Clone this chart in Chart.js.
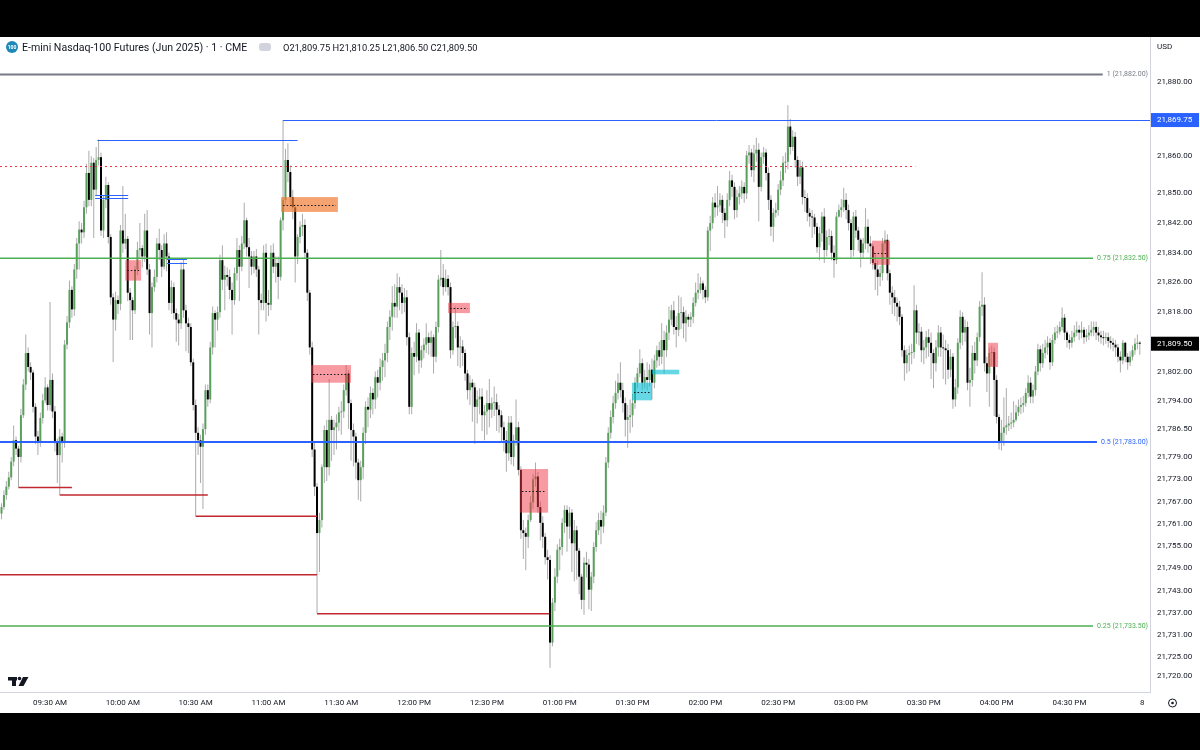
<!DOCTYPE html>
<html>
<head>
<meta charset="utf-8">
<script src="https://cdn.jsdelivr.net/npm/chart.js@4.4.1/dist/chart.umd.min.js"></script>
<style>
  html, body { margin: 0; padding: 0; background: #000; }
  #page { position: relative; width: 1200px; height: 750px; background: #000; overflow: hidden; font-family: Roboto, "Noto Sans", sans-serif; }
  #pane { position: absolute; left: 0; top: 37px; width: 1200px; height: 676px; background: #fff; }
  #chart { position: absolute; left: 0; top: 0; }
  .hdr { position: absolute; top: 4px; height: 13px; line-height: 13px; color: #131722; white-space: nowrap; }
  #sym { left: 6px; top: 4px; width: 12px; height: 12px; border-radius: 50%; background: #1e88b9; color: #fff; font-size: 5px; line-height: 12px; text-align: center; font-weight: bold; }
  #title { left: 22px; font-size: 10.6px; }
  #eye { left: 259px; top: 6px; width: 12px; height: 8px; border-radius: 3px; background: #d1d4dc; }
  #ohlc { left: 283px; font-size: 9.3px; }
  #usd { position: absolute; left: 1157px; top: 5px; font-size: 8px; color: #131722; }
</style>
</head>
<body>
<div id="page">
  <div id="pane">
    <canvas id="chart" width="1200" height="676"></canvas>
    <div id="sym" class="hdr">100</div>
    <div id="title" class="hdr">E-mini Nasdaq-100 Futures (Jun 2025) · 1 · CME</div>
    <div id="eye" class="hdr"></div>
    <div id="ohlc" class="hdr"></div>
    <div id="usd">USD</div>
  </div>
</div>
<script>
// 1-minute candles, 09:10 -> 16:59 (index 0 = 09:10)
const firstOpen = 21763.75;
const closes = [
  21765.5, 21768.75, 21771, 21773.5, 21777.75, 21783.5, 21781.25, 21779, 21790.25, 21798.5,
  21807, 21803.25, 21801.75, 21792.5, 21784.5, 21782.75, 21789.5, 21794.25, 21797.75, 21793,
  21799.75, 21791.25, 21782.75, 21779.5, 21784.5, 21782.75, 21809.25, 21815.25, 21824, 21818.75,
  21829.5, 21836.5, 21840.25, 21839.5, 21846.25, 21855.5, 21848.25, 21858.25, 21851, 21859,
  21859.75, 21840, 21848.25, 21852.25, 21838.25, 21822, 21816, 21821.25, 21820.25, 21840,
  21836.5, 21837.75, 21823.25, 21821.25, 21818.5, 21829.5, 21834.75, 21835.25, 21833, 21840,
  21829.5, 21817.75, 21824.75, 21827.5, 21836.5, 21834.75, 21830.25, 21836.5, 21833, 21820.5,
  21824.75, 21817.75, 21816, 21815, 21829.5, 21818.5, 21815, 21814, 21804.5, 21793,
  21785.5, 21783.5, 21781.75, 21786.5, 21797, 21794.5, 21808.5, 21817.75, 21816, 21818,
  21832, 21826.75, 21828, 21827.5, 21824, 21821.25, 21828.5, 21834.75, 21830.25, 21836.5,
  21842.75, 21835.5, 21833, 21830.25, 21833, 21829.5, 21821.25, 21820.5, 21834, 21820.5,
  21820, 21834, 21830.25, 21831.25, 21827.5, 21842.75, 21848.25, 21859, 21855.75, 21849,
  21846.25, 21833, 21838.25, 21841, 21841.5, 21834, 21823.25, 21808.5, 21781, 21771,
  21758.5, 21762, 21776.25, 21786.25, 21776.25, 21789, 21786.25, 21787, 21788.25, 21791,
  21791.25, 21797, 21801.5, 21793.5, 21786.25, 21784.5, 21777.5, 21772.75, 21776.25, 21785.5,
  21792.5, 21791.75, 21796.25, 21794.5, 21800.5, 21799, 21803.25, 21805, 21807, 21814,
  21816.75, 21820.5, 21819.5, 21824.75, 21823.25, 21820.5, 21822, 21811.25, 21792.5, 21807,
  21806, 21812.5, 21805, 21807.75, 21809.25, 21811.25, 21809.75, 21811.25, 21806, 21814,
  21826.75, 21827.25, 21824.75, 21827, 21824.75, 21807.75, 21814, 21814.25, 21808.5, 21808.75,
  21807, 21801.5, 21797, 21799, 21797.75, 21792.5, 21794.5, 21795.25, 21790.25, 21791.25,
  21793.5, 21791.75, 21793.5, 21793.75, 21791.75, 21790.25, 21787, 21783.5, 21780, 21788.25,
  21779, 21783.5, 21787, 21775.5, 21759.25, 21758.5, 21757.5, 21762, 21766.75, 21773,
  21773.75, 21765.5, 21761.25, 21757.5, 21752, 21751.25, 21729, 21739.75, 21746.75, 21754,
  21754.75, 21761.25, 21764.75, 21760.25, 21764, 21755.75, 21759.25, 21753.75, 21746.75, 21740.5,
  21750.5, 21750, 21743.25, 21746.75, 21754.75, 21759.25, 21762, 21760.25, 21764, 21777.5,
  21785.5, 21789.75, 21793.5, 21796.25, 21799, 21797, 21793.5, 21789, 21789.75, 21790.25,
  21793.5, 21799, 21801.5, 21804.25, 21799, 21800.5, 21799.75, 21802.5, 21799, 21805,
  21807.75, 21806, 21810.5, 21807.75, 21812.5, 21816, 21818.5, 21814, 21813.25, 21817.75,
  21818, 21815, 21816.75, 21816, 21816.75, 21820.5, 21823.25, 21824, 21825.75, 21824,
  21822, 21840, 21842, 21847.5, 21846.25, 21846.75, 21848.25, 21844.75, 21842.75, 21848.25,
  21853.5, 21851.75, 21845.5, 21849, 21850, 21851.75, 21850, 21860.25, 21861, 21856.25,
  21860.75, 21861.75, 21851.75, 21859.75, 21861, 21855.5, 21848.25, 21841, 21844.75, 21845.5,
  21851, 21853.5, 21858.25, 21858.5, 21868, 21862.5, 21865.25, 21859, 21854.5, 21857,
  21849, 21848.75, 21844.75, 21843.75, 21843.5, 21841, 21835.5, 21839.25, 21843.75, 21834.75,
  21838.25, 21838.5, 21834, 21832, 21843.75, 21845.5, 21846.25, 21848.25, 21845.5, 21842,
  21834.75, 21843.75, 21840, 21837.5, 21834, 21836.5, 21841, 21836.5, 21835.75, 21831.25,
  21829.5, 21827.5, 21828.5, 21836.5, 21837.5, 21828.5, 21823.25, 21822, 21820.5, 21819.5,
  21816.75, 21807.75, 21804.25, 21806.5, 21807, 21807.25, 21818.5, 21812.5, 21812.75, 21807.75,
  21808.5, 21811.25, 21809.75, 21807, 21804.25, 21808.5, 21812.5, 21808.5, 21808.25, 21807.75,
  21802.5, 21806, 21794.5, 21797.75, 21809.75, 21816.75, 21812.5, 21814, 21799, 21799.75,
  21807, 21805, 21811.25, 21819.5, 21820, 21804.25, 21801.5, 21807, 21807.25, 21799.75,
  21789.75, 21782.75, 21785.5, 21787, 21787.5, 21788, 21788.25, 21789, 21791, 21792.5,
  21793, 21793.5, 21796.25, 21799, 21795.25, 21797, 21802, 21808, 21804.25, 21807,
  21808.5, 21809.75, 21804.5, 21810.5, 21812.5, 21812.75, 21814, 21816.5, 21812.5, 21810.5,
  21809.75, 21811.25, 21812.5, 21813.25, 21812.5, 21813.25, 21811.25, 21811.75, 21812.5, 21813.25,
  21814, 21812.5, 21811.75, 21811.25, 21811, 21811.25, 21810.25, 21809.75, 21809.25, 21808.5,
  21806, 21805, 21809.75, 21806, 21804.5, 21806, 21807.75, 21809.5, 21809.75, 21809.5
];
const highs = [
  21766.5, 21770, 21772.5, 21775, 21779, 21787.5, 21784.5, 21782, 21792, 21800,
  21812, 21808.5, 21804.5, 21802.5, 21793.5, 21786, 21791, 21796, 21800.5, 21798.5,
  21820.75, 21801.5, 21792.75, 21784, 21786.5, 21785.5, 21810.5, 21817, 21826.5, 21825,
  21831, 21838, 21842.5, 21842, 21848, 21858, 21861.5, 21860, 21859.5, 21862.5,
  21864.5, 21861, 21849.5, 21854.5, 21853, 21839, 21823, 21823.5, 21822.5, 21841.5,
  21852, 21844.5, 21838.5, 21824.5, 21822, 21830.5, 21837, 21842, 21836, 21844.5,
  21845.5, 21831, 21826, 21829.5, 21838, 21840.5, 21836, 21839, 21839.5, 21834,
  21826.5, 21826, 21819, 21817.5, 21831.5, 21832.5, 21820, 21816.5, 21815, 21805.5,
  21794.5, 21787, 21785, 21788, 21798.5, 21798.5, 21810, 21819.5, 21818.5, 21819.5,
  21833.5, 21836, 21830.5, 21830, 21829.5, 21826, 21830, 21838, 21836, 21838.5,
  21847.5, 21843.5, 21838, 21834.5, 21834.5, 21835, 21830.5, 21823, 21836, 21836.5,
  21824, 21836, 21836.5, 21833, 21833, 21843.5, 21869.75, 21862, 21863.5, 21857.5,
  21851, 21847, 21839, 21842.5, 21844.5, 21843, 21835, 21824, 21810, 21783,
  21772, 21764, 21777, 21787.5, 21789, 21800, 21790, 21789, 21790.5, 21792.5,
  21794, 21798.5, 21803.75, 21802.5, 21794.5, 21788, 21785.5, 21778.5, 21778, 21787,
  21794, 21795, 21798, 21797.5, 21802, 21802.5, 21805.5, 21807, 21809.5, 21815.5,
  21818.5, 21825, 21825.5, 21828.5, 21827.5, 21825.5, 21824.5, 21824, 21812.5, 21808.5,
  21810, 21815, 21813.5, 21809, 21811, 21815, 21812.5, 21813, 21812, 21815.5,
  21828, 21834.75, 21831, 21829.5, 21828, 21826, 21815.5, 21819.5, 21815.5, 21811.5,
  21810.5, 21808, 21802.5, 21801, 21800, 21799, 21797, 21797.5, 21797.5, 21793,
  21797, 21800, 21795, 21798, 21796, 21793, 21791.5, 21788.5, 21786, 21790,
  21790, 21785, 21794.5, 21788.5, 21776.5, 21762, 21760, 21763.5, 21768.5, 21774.5,
  21777.5, 21775, 21767, 21763, 21758.5, 21754, 21752.5, 21741, 21749, 21755.5,
  21757, 21762.5, 21766, 21766, 21765.5, 21765, 21762, 21760.5, 21754.5, 21747.5,
  21752, 21753.5, 21751.5, 21748, 21756, 21761.5, 21764, 21764.5, 21766, 21779,
  21787, 21791.5, 21795.5, 21799.5, 21801.5, 21804.5, 21799, 21795, 21793, 21794.5,
  21796, 21800.5, 21803, 21808, 21805.5, 21802.5, 21804.5, 21804, 21805.5, 21806.5,
  21809, 21810, 21815, 21813, 21814.5, 21819.5, 21820, 21821, 21817, 21822.5,
  21822, 21819.5, 21818.5, 21817.5, 21818, 21822, 21826, 21828.5, 21827.5, 21826.5,
  21825, 21841, 21844, 21849, 21850, 21852, 21850, 21849.5, 21846, 21850,
  21856, 21855, 21853, 21851, 21852, 21853.5, 21853, 21861.5, 21863, 21862,
  21863, 21865, 21863.5, 21861, 21862.5, 21862, 21857, 21849.5, 21846, 21847.5,
  21852.5, 21856, 21860, 21861, 21873.75, 21870, 21867, 21866.5, 21860, 21859,
  21858.5, 21851, 21850, 21846, 21845.5, 21844.5, 21842, 21841, 21845, 21846,
  21840, 21840.5, 21840, 21836, 21845, 21847, 21848.5, 21851.5, 21850, 21847,
  21843, 21845, 21845.5, 21841, 21838, 21838, 21846, 21843, 21838.5, 21836.5,
  21834, 21832, 21830.5, 21838, 21840, 21839, 21829.5, 21825, 21824, 21822,
  21821, 21817.5, 21809, 21808, 21809, 21809.5, 21825.25, 21820, 21815, 21814,
  21810.5, 21813, 21813.5, 21812.5, 21808, 21810.5, 21814.5, 21814, 21812, 21810.5,
  21809.5, 21808, 21807, 21800, 21811, 21818.5, 21818, 21816, 21815.5, 21803,
  21809, 21810, 21812.5, 21821, 21828.75, 21822, 21806, 21808.5, 21809, 21808.5,
  21801, 21790.5, 21789, 21795, 21797.5, 21790, 21791, 21794, 21793, 21794.5,
  21795, 21795.5, 21797.5, 21801, 21800.5, 21798.5, 21803.5, 21809.5, 21809, 21809.5,
  21810.5, 21811.5, 21811, 21812, 21814, 21814.5, 21815.5, 21819.25, 21817.5, 21813,
  21812, 21813, 21814.5, 21815.5, 21814.5, 21815.5, 21814, 21813.5, 21814.5, 21815.5,
  21815.5, 21815.5, 21814, 21813, 21813, 21812.5, 21812.5, 21811.5, 21811, 21810.5,
  21809.5, 21807.5, 21810.5, 21810, 21807, 21807.5, 21809, 21811, 21812, 21810.25
];
const lows = [
  21762.25, 21764.75, 21767.5, 21770.25, 21772.75, 21776.5, 21779.5, 21770.75, 21777.5, 21789.5,
  21797, 21802, 21799.75, 21791, 21782.5, 21779.5, 21781.75, 21788, 21793.5, 21791.5,
  21791.5, 21789.5, 21780.5, 21772, 21768.75, 21777.5, 21781.5, 21808, 21813.75, 21816.5,
  21817, 21827, 21829.5, 21836.5, 21838, 21844.5, 21846.5, 21846.5, 21838, 21849.5,
  21857.5, 21838.5, 21838, 21846, 21836.5, 21820, 21804.5, 21813, 21817.5, 21818.5,
  21834, 21835, 21821, 21810.5, 21810.5, 21817.5, 21828, 21832.5, 21830, 21831.5,
  21828, 21812, 21808.5, 21823.5, 21826, 21832, 21827.5, 21829.5, 21829, 21818.5,
  21817.5, 21816, 21810, 21809, 21813.5, 21816.5, 21807.5, 21807, 21803.5, 21791.5,
  21763, 21779.5, 21772, 21765, 21785, 21792.5, 21793.5, 21806.5, 21808.5, 21813,
  21816.5, 21824, 21818.5, 21825, 21821.5, 21812, 21820, 21826.5, 21821, 21829,
  21835, 21833, 21824.5, 21828, 21828.5, 21827.5, 21812, 21818.5, 21818.5, 21815.5,
  21817, 21818.5, 21828.5, 21826, 21821.5, 21826.5, 21840, 21847, 21853, 21846.5,
  21843, 21826, 21831, 21836.5, 21838.5, 21832.5, 21821, 21806.5, 21779, 21768.5,
  21736.75, 21748, 21760, 21772, 21772.5, 21774, 21778, 21779.5, 21781, 21786,
  21785, 21789.5, 21795.5, 21786.5, 21778, 21776.5, 21773, 21767.5, 21767, 21773,
  21782.5, 21787, 21789.5, 21790.5, 21792, 21795, 21797, 21799.5, 21800.5, 21804.5,
  21810.5, 21813, 21816.5, 21816.5, 21818.5, 21817.5, 21818, 21809, 21790.5, 21790.5,
  21801, 21804.5, 21801.5, 21803, 21805.5, 21807, 21806.5, 21806, 21801.5, 21804.5,
  21812.5, 21825, 21822.5, 21823.5, 21822.5, 21805.5, 21806.5, 21811, 21803.5, 21803,
  21803.5, 21799.5, 21794.5, 21793, 21788.5, 21782.5, 21788, 21790.5, 21786, 21783.5,
  21785, 21787, 21789.5, 21790, 21786, 21785.5, 21783, 21780.5, 21775, 21778,
  21777, 21776.5, 21782, 21774, 21757, 21751.5, 21748.5, 21754.5, 21761.5, 21765,
  21771, 21764, 21756.5, 21754.5, 21750, 21746, 21722.25, 21728, 21737.5, 21745,
  21748.5, 21752.5, 21758.5, 21753.5, 21757, 21748, 21745.5, 21746, 21742, 21738,
  21736.5, 21746.5, 21738, 21737.5, 21745, 21753.5, 21758, 21755.5, 21758.5, 21763,
  21776, 21784, 21788, 21792, 21794.5, 21795, 21791, 21784.5, 21781.5, 21785.5,
  21787, 21792, 21797.5, 21800.5, 21797, 21797.5, 21797, 21798, 21794.5, 21797.5,
  21803, 21803.5, 21804, 21801.5, 21806, 21810.5, 21814.5, 21812, 21808.5, 21811.5,
  21813.5, 21811, 21810, 21814, 21814, 21815, 21819.5, 21821.5, 21823, 21821.5,
  21820.5, 21821, 21834.5, 21840.5, 21843.5, 21844, 21845, 21842, 21838, 21841,
  21846.5, 21849, 21843, 21843.5, 21847, 21848.5, 21847.5, 21848.5, 21858, 21854.5,
  21853, 21858.5, 21842.5, 21850.5, 21858, 21853.5, 21845.5, 21838.5, 21837, 21843.5,
  21844, 21849.5, 21852, 21855.5, 21856.5, 21860.5, 21861.5, 21857, 21852, 21852.5,
  21847, 21845, 21842.5, 21841, 21838, 21839, 21834, 21832, 21837, 21831.25,
  21833, 21836, 21832, 21827.25, 21831, 21843.5, 21843.5, 21845, 21843, 21840,
  21832.5, 21833, 21838, 21834.5, 21830, 21832.5, 21835, 21834, 21831, 21829.5,
  21824, 21822.5, 21825, 21826.5, 21834.5, 21826.5, 21820, 21817.5, 21817, 21815.5,
  21814.5, 21806, 21799.5, 21801.5, 21802, 21804, 21805.5, 21809.5, 21809, 21804.5,
  21804, 21805.5, 21806, 21800, 21797.5, 21802, 21806, 21806, 21800, 21798.5,
  21800, 21800.5, 21792, 21792.5, 21796, 21808, 21809, 21810, 21797, 21792.5,
  21798, 21801.5, 21803.5, 21810, 21817, 21802, 21796.5, 21792.5, 21803.5, 21790,
  21788, 21781, 21780.75, 21782, 21785, 21786, 21786.5, 21787, 21788.5, 21790,
  21790.5, 21791, 21792.5, 21795, 21793.5, 21793.5, 21795.5, 21801, 21802, 21803,
  21805.5, 21806.5, 21802.5, 21803.5, 21809.5, 21811, 21812, 21813, 21810.5, 21808.5,
  21808, 21808.5, 21810, 21811.5, 21810.5, 21811, 21809.5, 21810, 21810.5, 21811.5,
  21811.5, 21810.5, 21810, 21809.5, 21809, 21809.5, 21808.5, 21808, 21807.5, 21806,
  21804.5, 21801.75, 21804, 21804.5, 21802.5, 21803.5, 21805, 21806.5, 21808, 21806.5
];

// axis ticks
const priceTicks = [21880, 21860, 21850, 21842, 21834, 21826, 21818, 21802, 21794, 21786.5,
  21779, 21773, 21767, 21761, 21755, 21749, 21743, 21737, 21731, 21725, 21720];
const timeTickIdx = [20, 50, 80, 110, 140, 170, 200, 230, 260, 290, 320, 350, 380, 410, 440, 470];
const timeLabels = ['09:30 AM', '10:00 AM', '10:30 AM', '11:00 AM', '11:30 AM', '12:00 PM', '12:30 PM',
  '01:00 PM', '01:30 PM', '02:00 PM', '02:30 PM', '03:00 PM', '03:30 PM', '04:00 PM', '04:30 PM', '8'];

// drawings: fib levels, swept lows, highs, zones
const fibRatios = ['1', '0.75', '0.5', '0.25'];
const fibPrices = [21882, 21832.5, 21783, 21733.5];
const sweptLows = [[7, 29, 21770.75], [24, 85, 21768.75], [80, 130, 21763], [-1, 130, 21747.25], [130, 225.6, 21736.75]];
const highLevels = [[116, 474, 21869.75], [39.5, 122, 21864.5], [38.6, 52.2, 21849.6], [38.6, 52.2, 21848.8],
  [68.2, 76.4, 21832.3], [68.2, 76.4, 21831.2]];
const dottedLevel = [-1, 376.5, 21857.5];
const zones = [[51, 57.5, 21826.5, 21832], [115.2, 138.6, 21845, 21849], [127.5, 144, 21799, 21803.75],
  [184, 193, 21817.75, 21820.5], [213.6, 225.2, 21764, 21775.75], [259.8, 268, 21794.25, 21799],
  [268, 279.2, 21801.25, 21802.5], [358.7, 366.1, 21830.75, 21837.25], [406.5, 410.6, 21803.25, 21809.75]];
const zoneKind = ['sell', 'supply', 'sell', 'sell', 'sell', 'buy', 'buy', 'sell', 'sell'];
const zoneMid = [true, true, true, true, true, true, false, true, false];
const badgePrices = [21869.75, 21809.5];

const upColor = '#5b9f5c';
const downColor = '#000000';
const wickColor = '#ababab';
const zoneColors = { sell: 'rgba(242,54,69,0.5)', supply: 'rgba(240,120,45,0.68)', buy: 'rgba(0,188,212,0.6)' };
const fibColors = ['#787b86', '#4caf50', '#2962ff', '#4caf50'];
const fibWidths = [2, 1.5, 2, 1.5];
const badgeColors = ['#2962ff', '#000000'];

const fmt = v => v.toLocaleString('en-US', { minimumFractionDigits: 2, maximumFractionDigits: 2 });

const opens = closes.map((c, i) => i === 0 ? firstOpen : closes[i - 1]);
const bodies = closes.map((c, i) => ({ x: i, y: [opens[i], c] }));
const wicks = closes.map((c, i) => ({ x: i, y: [Math.min(lows[i], opens[i], c), Math.max(highs[i], opens[i], c)] }));
const bodyColors = closes.map((c, i) => c >= opens[i] ? upColor : downColor);

const last = closes.length - 1;
document.getElementById('ohlc').textContent =
  'O' + fmt(opens[last]) + ' H' + fmt(highs[last]) + ' L' + fmt(lows[last]) + ' C' + fmt(closes[last]);

// scales must not push the plot area in
function noPad(s) {
  s.paddingTop = 0; s.paddingBottom = 0; s.paddingLeft = 0; s.paddingRight = 0;
}

const overlay = {
  id: 'overlay',
  afterDatasetsDraw(chart) {
    const { ctx, scales: { x, y } } = chart;
    const px = v => x.getPixelForValue(v);
    const py = v => y.getPixelForValue(v);
    ctx.save();

    // zones
    zones.forEach((z, k) => {
      const x0 = px(z[0]), x1 = px(z[1]), y0 = py(z[3]), y1 = py(z[2]);
      ctx.fillStyle = zoneColors[zoneKind[k]];
      ctx.fillRect(x0, y0, x1 - x0, y1 - y0);
      if (zoneMid[k]) {
        const ym = Math.round((y0 + y1) / 2) + 0.5;
        ctx.strokeStyle = '#131722';
        ctx.lineWidth = 1;
        ctx.setLineDash([1.5, 2]);
        ctx.beginPath();
        ctx.moveTo(x0 + 2, ym);
        ctx.lineTo(x1 - 2, ym);
        ctx.stroke();
        ctx.setLineDash([]);
      }
    });

    // fib levels with labels
    ctx.font = '7px Roboto';
    ctx.textBaseline = 'middle';
    ctx.textAlign = 'right';
    fibPrices.forEach((p, k) => {
      const yy = py(p);
      const label = fibRatios[k] + ' (' + fmt(p) + ')';
      const w = ctx.measureText(label).width;
      ctx.strokeStyle = fibColors[k];
      ctx.lineWidth = fibWidths[k];
      ctx.beginPath();
      ctx.moveTo(0, yy);
      ctx.lineTo(1148 - w - 4, yy);
      ctx.stroke();
      ctx.fillStyle = fibColors[k];
      ctx.fillText(label, 1148, yy);
    });

    // swept lows
    ctx.strokeStyle = '#c2282f';
    ctx.lineWidth = 1.5;
    sweptLows.forEach(l => {
      const yy = py(l[2]);
      ctx.beginPath();
      ctx.moveTo(Math.max(0, px(l[0])), yy);
      ctx.lineTo(px(l[1]), yy);
      ctx.stroke();
    });

    // highs
    ctx.strokeStyle = '#2962ff';
    ctx.lineWidth = 1;
    highLevels.forEach(l => {
      const yy = Math.round(py(l[2])) + 0.5;
      ctx.beginPath();
      ctx.moveTo(px(l[0]), yy);
      ctx.lineTo(Math.min(1150, px(l[1])), yy);
      ctx.stroke();
    });

    // dotted level
    ctx.strokeStyle = '#f23645';
    ctx.setLineDash([2, 3]);
    const dy = Math.round(py(dottedLevel[2])) + 0.5;
    ctx.beginPath();
    ctx.moveTo(0, dy);
    ctx.lineTo(px(dottedLevel[1]), dy);
    ctx.stroke();
    ctx.setLineDash([]);
    ctx.restore();
  },
  afterDraw(chart) {
    const { ctx, scales: { y } } = chart;
    ctx.save();
    // price badges on the axis
    ctx.font = '8px Roboto';
    ctx.textBaseline = 'middle';
    ctx.textAlign = 'left';
    badgePrices.forEach((p, k) => {
      const yy = y.getPixelForValue(p);
      ctx.fillStyle = badgeColors[k];
      ctx.fillRect(1151, yy - 7, 48, 14);
      ctx.fillStyle = '#ffffff';
      ctx.fillText(fmt(p), 1157, yy);
    });
    // TradingView logo
    ctx.fillStyle = '#131722';
    ctx.fillRect(8, 640, 9, 3.5);
    ctx.fillRect(12, 640, 4, 9);
    ctx.beginPath();
    ctx.arc(19.5, 641.5, 1.8, 0, Math.PI * 2);
    ctx.fill();
    ctx.beginPath();
    ctx.moveTo(23, 640);
    ctx.lineTo(28.5, 640);
    ctx.lineTo(23.5, 649);
    ctx.lineTo(18.5, 649);
    ctx.closePath();
    ctx.fill();
    // settings icon
    ctx.strokeStyle = '#131722';
    ctx.lineWidth = 1;
    ctx.beginPath();
    ctx.arc(1172.5, 666, 4, 0, Math.PI * 2);
    ctx.stroke();
    ctx.beginPath();
    ctx.arc(1172.5, 666, 1.3, 0, Math.PI * 2);
    ctx.fill();
    ctx.restore();
  }
};

new Chart(document.getElementById('chart'), {
  type: 'bar',
  data: {
    datasets: [
      { label: 'body', data: bodies, backgroundColor: bodyColors, barThickness: 2, minBarLength: 1,
        grouped: false, borderWidth: 0, inflateAmount: 0, order: 0 },
      { label: 'wick', data: wicks, backgroundColor: wickColor, barThickness: 1,
        grouped: false, borderWidth: 0, inflateAmount: 0, order: 1 }
    ]
  },
  options: {
    responsive: false,
    animation: false,
    events: [],
    layout: { padding: 0, autoPadding: false },
    plugins: { legend: { display: false }, tooltip: { enabled: false } },
    scales: {
      x: {
        type: 'linear', min: -0.62, max: 473.2, offset: false,
        grid: { display: false, drawTicks: false },
        border: { display: true, color: '#d1d4dc' },
        afterBuildTicks: s => { s.ticks = timeTickIdx.map(v => ({ value: v })); },
        afterFit: s => { s.height = 21; noPad(s); },
        ticks: { padding: 6, maxRotation: 0, minRotation: 0, autoSkip: false, color: '#131722',
          font: { size: 8, family: 'Roboto' }, callback: (v, i) => timeLabels[i] }
      },
      y: {
        position: 'right', min: 21715.69, max: 21892.12,
        grid: { display: false, drawTicks: false },
        border: { display: true, color: '#d1d4dc' },
        afterBuildTicks: s => { s.ticks = priceTicks.map(v => ({ value: v })); },
        afterFit: s => { s.width = 50; noPad(s); },
        ticks: { padding: 7, color: '#131722', font: { size: 8, family: 'Roboto' }, callback: v => fmt(v) }
      }
    }
  },
  plugins: [overlay]
});
</script>
</body>
</html>
